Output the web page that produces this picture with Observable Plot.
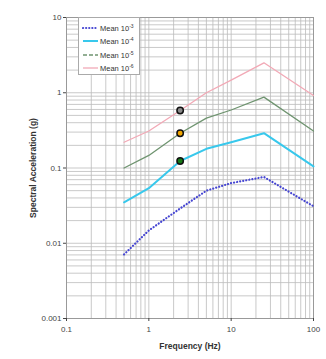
<!DOCTYPE html>
<html>
<head>
<meta charset="utf-8">
<script src="https://cdn.jsdelivr.net/npm/d3@7"></script>
<script src="https://cdn.jsdelivr.net/npm/@observablehq/plot@0.6"></script>
<style>
  html, body { margin: 0; padding: 0; background: #fff; }
  #wrap { position: relative; width: 326px; height: 359px; font-family: "Liberation Sans", Arial, sans-serif; }
  #legend { position: absolute; left: 78px; top: 17px; width: 62px; height: 58px; background: #fff; border: 1px solid #aaa; box-sizing: border-box; font-size: 7.5px; color: #333; padding-top: 3px; }
  .item { display: flex; align-items: center; height: 13.5px; }
  .item svg { margin-left: 3px; margin-right: 1px; }
  sup { font-size: 5px; vertical-align: 3px; }
</style>
</head>
<body>
<div id="wrap"></div>
<script>
const freqs = [0.5, 1, 2.4, 5, 10, 25, 100];
const mean3 = [0.0071, 0.0148, 0.029, 0.050, 0.063, 0.076, 0.031];
const mean4 = [0.035, 0.054, 0.124, 0.18, 0.22, 0.29, 0.105];
const mean5 = [0.10, 0.147, 0.29, 0.46, 0.59, 0.875, 0.31];
const mean6 = [0.22, 0.31, 0.58, 1.0, 1.47, 2.5, 0.92];
const seriesNames = ["Mean 10-3", "Mean 10-4", "Mean 10-5", "Mean 10-6"];
const seriesExp = ["-3", "-4", "-5", "-6"];
const seriesColors = ["#4646d2", "#38c8ec", "#6f9470", "#f2a9b6"];
const dotFreq = [2.4, 2.4, 2.4];
const dotValues = [0.58, 0.29, 0.124];
const dotFills = ["#8a8a8a", "#f0a500", "#157a15"];
const xTicks = [0.1, 1, 10, 100];
const yTicks = [0.001, 0.01, 0.1, 1, 10];

const allSeries = [mean3, mean4, mean5, mean6];
const rows = [];
allSeries.forEach((vals, i) => freqs.forEach((f, j) => rows.push({f, v: vals[j], s: seriesNames[i]})));
const dots = dotFreq.map((f, i) => ({f, v: dotValues[i], fill: dotFills[i]}));

const xGrid = [], yGrid = [];
for (let e = -1; e < 2; e++) for (let k = 1; k < 10; k++) xGrid.push(k * 10 ** e);
xGrid.push(100);
for (let e = -3; e < 1; e++) for (let k = 1; k < 10; k++) yGrid.push(k * 10 ** e);
yGrid.push(10);

const fmt = d => d >= 1 ? String(d) : String(+d.toPrecision(1));

const styles = [
  {stroke: seriesColors[0], strokeWidth: 2.2, strokeDasharray: "0.1,3", strokeLinecap: "round"},
  {stroke: seriesColors[1], strokeWidth: 2},
  {stroke: seriesColors[2], strokeWidth: 1.3},
  {stroke: seriesColors[3], strokeWidth: 1.3}
];

const chart = Plot.plot({
  width: 326,
  height: 359,
  marginLeft: 66,
  marginRight: 13,
  marginTop: 17,
  marginBottom: 41,
  style: {fontFamily: "Liberation Sans, Arial, sans-serif", fontSize: "8px", color: "#444", background: "#fff"},
  x: {type: "log", domain: [0.1, 100]},
  y: {type: "log", domain: [0.001, 10]},
  marks: [
    Plot.ruleX(xGrid, {stroke: "#bbb", strokeWidth: 0.8}),
    Plot.ruleY(yGrid, {stroke: "#bbb", strokeWidth: 0.8}),
    Plot.frame({stroke: "#999"}),
    ...seriesNames.map((s, i) => Plot.line(rows.filter(r => r.s === s), {x: "f", y: "v", ...styles[i]})),
    Plot.dot(dots, {x: "f", y: "v", r: 3.2, fill: d => d.fill, stroke: "#111", strokeWidth: 1.5}),
    Plot.axisX({ticks: xTicks, tickFormat: fmt, tickSize: 3, tickPadding: 5, label: "Frequency (Hz)", labelAnchor: "center", labelOffset: 30, labelArrow: "none"}),
    Plot.axisY({ticks: yTicks, tickFormat: fmt, tickSize: 3, tickPadding: 2, label: "Spectral Acceleration (g)", labelAnchor: "center", labelOffset: 37, labelArrow: "none"})
  ]
});
chart.querySelectorAll("g[aria-label='x-axis label'] text, g[aria-label='y-axis label'] text").forEach(t => {
  t.setAttribute("font-weight", "bold");
  t.setAttribute("font-size", "8.5px");
  t.setAttribute("fill", "#333");
});
const wrap = document.getElementById("wrap");
wrap.appendChild(chart);

const legend = document.createElement("div");
legend.id = "legend";
seriesNames.forEach((s, i) => {
  const item = document.createElement("div");
  item.className = "item";
  const st = styles[i];
  item.innerHTML = `<svg width="17" height="4"><line x1="1" y1="2" x2="16" y2="2" stroke="${st.stroke}" stroke-width="${st.strokeWidth}" ${i === 0 ? 'stroke-dasharray="0.1,3" stroke-linecap="round"' : i === 2 ? 'stroke-dasharray="4,2"' : ''}/></svg><span>Mean 10<sup>${seriesExp[i]}</sup></span>`;
  legend.appendChild(item);
});
wrap.appendChild(legend);
</script>
</body>
</html>
